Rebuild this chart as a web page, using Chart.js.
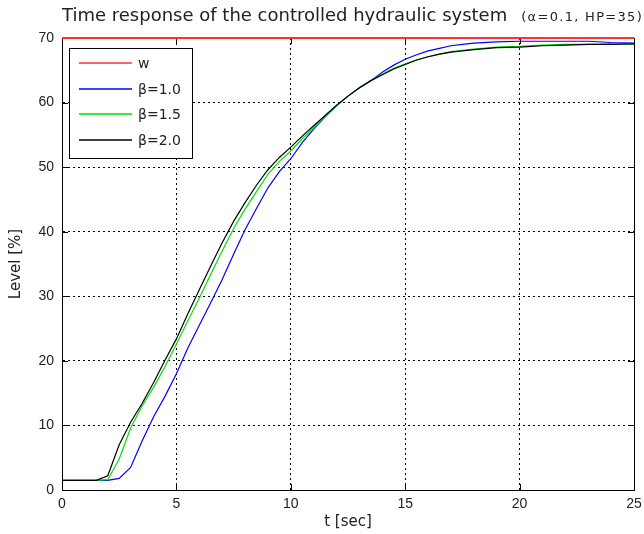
<!DOCTYPE html>
<html>
<head>
<meta charset="utf-8">
<script src="https://cdn.jsdelivr.net/npm/chart.js@4/dist/chart.umd.min.js"></script>
<style>
  html, body { margin: 0; padding: 0; background: #fff; }
  #wrap { width: 644px; height: 534px; position: relative; }
</style>
</head>
<body>
<div id="wrap"><canvas id="respChart"></canvas></div>
<script>
// time axis [sec]
const tSec = [0, 0.5, 1, 1.5, 2, 2.5, 3, 3.5, 4, 4.5, 5, 5.5, 6, 6.5, 7, 7.5, 8, 8.5, 9, 9.5,
  10, 10.5, 11, 11.5, 12, 12.5, 13, 13.5, 14, 14.5, 15, 15.5, 16, 16.5, 17, 17.5, 18,
  19, 20, 21, 22, 23, 24, 25];

// reference w = 70 %
const wRef = tSec.map(() => 70);

const beta10 = [1.5, 1.5, 1.5, 1.5, 1.5, 1.8, 3.5, 7.6, 11.3, 14.5, 18.0, 22.0, 25.5, 29.0, 32.6, 36.5, 40.3, 43.6, 46.8, 49.3,
  51.3, 53.8, 55.9, 57.8, 59.5, 61.0, 62.3, 63.4, 64.7, 65.8, 66.7, 67.4, 68.0, 68.4, 68.8, 69.0, 69.2,
  69.4, 69.5, 69.5, 69.5, 69.5, 69.3, 69.2];

const beta15 = [1.5, 1.5, 1.5, 1.5, 1.6, 4.8, 9.6, 13.0, 15.9, 19.1, 22.6, 26.2, 29.7, 33.4, 37.0, 40.5, 43.5, 46.2, 48.9, 50.9,
  52.5, 54.4, 56.1, 57.8, 59.5, 61.0, 62.3, 63.4, 64.4, 65.3, 66.0, 66.6, 67.1, 67.5, 67.9, 68.1, 68.3,
  68.6, 68.7, 68.9, 69.0, 69.0, 69.1, 69.1];

const beta20 = [1.5, 1.5, 1.5, 1.5, 2.2, 7.0, 10.5, 13.4, 16.6, 20.1, 23.4, 27.3, 31.0, 34.7, 38.3, 41.6, 44.5, 47.2, 49.6, 51.5,
  53.1, 54.8, 56.4, 58.0, 59.6, 61.0, 62.3, 63.4, 64.3, 65.2, 65.9, 66.6, 67.1, 67.5, 67.8, 68.0, 68.2,
  68.5, 68.6, 68.8, 68.9, 69.0, 69.0, 69.1];

const seriesNames = ['w', 'β=1.0', 'β=1.5', 'β=2.0'];
const seriesColors = ['#ff3030', '#0000ff', '#00e000', '#000000'];
const seriesWidths = [2, 1.2, 1.2, 1.2];

const xTicks = [0, 5, 10, 15, 20, 25];
const yTicks = [0, 10, 20, 30, 40, 50, 60, 70];

const titleMain = 'Time response of the controlled hydraulic system';
const titleNote = '(α=0.1, HP=35)';

function toPts(vals) {
  return vals.map((v, i) => ({ x: tSec[i], y: v }));
}

const allSeries = [wRef, beta10, beta15, beta20];

const datasets = allSeries.map((vals, i) => ({
  label: seriesNames[i],
  data: toPts(vals),
  borderColor: seriesColors[i],
  backgroundColor: seriesColors[i],
  borderWidth: seriesWidths[i],
  pointRadius: 0,
  tension: 0,
  clip: false,
  order: i === 0 ? 0 : 4 - i
}));

// frame + inward ticks (MATLAB style box)
const frameBox = {
  id: 'frameBox',
  beforeDatasetsDraw(chart) {
    const { ctx, chartArea: a, scales } = chart;
    ctx.save();
    ctx.strokeStyle = '#000';
    ctx.lineWidth = 1;
    ctx.strokeRect(Math.round(a.left) + 0.5, Math.round(a.top) + 0.5,
      Math.round(a.right - a.left), Math.round(a.bottom - a.top));
    const len = 6;
    ctx.beginPath();
    xTicks.forEach(v => {
      const px = Math.round(scales.x.getPixelForValue(v)) + 0.5;
      ctx.moveTo(px, a.bottom); ctx.lineTo(px, a.bottom - len);
      ctx.moveTo(px, a.top); ctx.lineTo(px, a.top + len);
    });
    yTicks.forEach(v => {
      const py = Math.round(scales.y.getPixelForValue(v)) + 0.5;
      ctx.moveTo(a.left, py); ctx.lineTo(a.left + len, py);
      ctx.moveTo(a.right, py); ctx.lineTo(a.right - len, py);
    });
    ctx.stroke();
    ctx.restore();
  }
};

// boxed legend in the upper left corner
const boxLegend = {
  id: 'boxLegend',
  afterDraw(chart) {
    const { ctx, chartArea: a } = chart;
    const x0 = Math.round(a.left) + 7, y0 = Math.round(a.top) + 10, w = 123, h = 110;
    ctx.save();
    ctx.fillStyle = '#fff';
    ctx.fillRect(x0, y0, w, h);
    ctx.strokeStyle = '#000';
    ctx.lineWidth = 1;
    ctx.strokeRect(x0 + 0.5, y0 + 0.5, w, h);
    ctx.font = '14px "DejaVu Sans"';
    ctx.textBaseline = 'middle';
    seriesNames.forEach((name, i) => {
      const y = y0 + 15 + Math.round(i * 25.5);
      ctx.beginPath();
      ctx.strokeStyle = seriesColors[i];
      ctx.lineWidth = 1.5;
      ctx.moveTo(x0 + 10, y);
      ctx.lineTo(x0 + 63, y);
      ctx.stroke();
      ctx.fillStyle = '#222';
      ctx.fillText(name, x0 + 69, y + 1);
    });
    ctx.restore();
  }
};

// title with a smaller, spaced note after it
const twoPartTitle = {
  id: 'twoPartTitle',
  afterDraw(chart) {
    const { ctx, chartArea: a } = chart;
    ctx.save();
    ctx.fillStyle = '#222';
    ctx.textBaseline = 'alphabetic';
    ctx.font = '18px "DejaVu Sans"';
    const x = a.left;
    ctx.fillText(titleMain, x, 21);
    const w1 = ctx.measureText(titleMain).width;
    ctx.font = '13px "DejaVu Sans"';
    ctx.letterSpacing = '1.3px';
    ctx.fillText(titleNote, x + w1 + 14, 21);
    ctx.restore();
  }
};

const ctx = document.getElementById('respChart').getContext('2d');
new Chart(ctx, {
  type: 'line',
  data: { datasets: datasets },
  plugins: [frameBox, boxLegend, twoPartTitle],
  options: {
    responsive: true,
    maintainAspectRatio: false,
    animation: false,
    layout: { padding: { left: 0, right: 10, top: 38, bottom: 0 } },
    plugins: {
      legend: { display: false },
      title: { display: false },
      tooltip: { enabled: false }
    },
    scales: {
      x: {
        type: 'linear',
        min: 0,
        max: 25,
        afterFit: s => { s.height = 44; s.paddingLeft = 0; s.paddingRight = 0; },
        afterBuildTicks: s => { s.ticks = xTicks.map(v => ({ value: v })); },
        ticks: { color: '#222', font: { family: 'Liberation Sans', size: 14 }, padding: 6, maxRotation: 0 },
        grid: { color: '#000', lineWidth: 1, drawTicks: false },
        border: { display: true, color: '#000', dash: [2, 3] },
        title: { display: true, text: 't [sec]', color: '#222', font: { family: 'DejaVu Sans', size: 15 }, padding: { top: 0, bottom: 3 } }
      },
      y: {
        min: 0,
        max: 70,
        afterFit: s => { s.width = 62; s.paddingTop = 0; s.paddingBottom = 0; },
        afterBuildTicks: s => { s.ticks = yTicks.map(v => ({ value: v })); },
        ticks: { color: '#222', font: { family: 'Liberation Sans', size: 14 }, padding: 8 },
        grid: { color: '#000', lineWidth: 1, drawTicks: false },
        border: { display: true, color: '#000', dash: [2, 3] },
        title: { display: true, text: 'Level [%]', color: '#222', font: { family: 'DejaVu Sans', size: 15 }, padding: { top: 7, bottom: 0 } }
      }
    }
  }
});
</script>
</body>
</html>
